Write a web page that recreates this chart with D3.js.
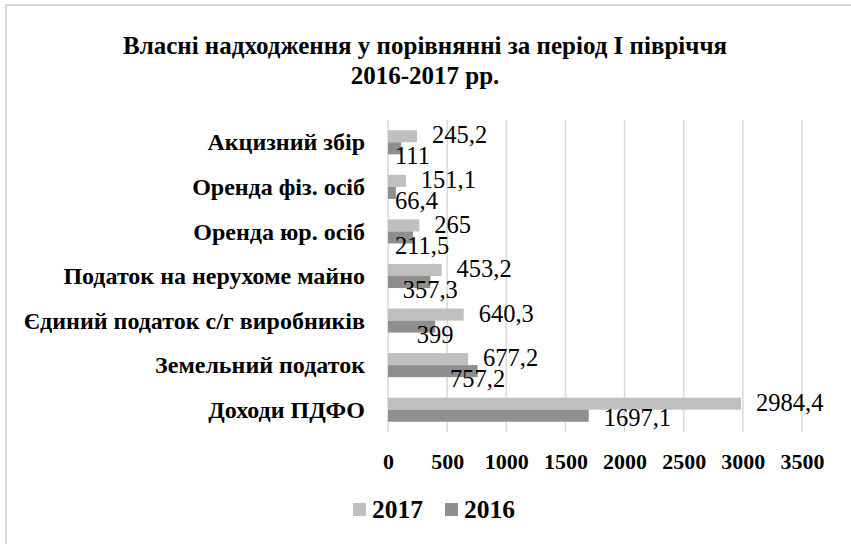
<!DOCTYPE html>
<html>
<head>
<meta charset="utf-8">
<script src="https://cdn.jsdelivr.net/npm/d3@7"></script>
<style>
  body { margin: 0; background: #fff; }
</style>
</head>
<body>
<div class="chart"></div>
<script>
// Data
var categories = [
  "Акцизний збір",
  "Оренда фіз. осіб",
  "Оренда юр. осіб",
  "Податок на нерухоме майно",
  "Єдиний податок с/г виробників",
  "Земельний податок",
  "Доходи ПДФО"
];
var seriesNames = ["2017", "2016"];
var values2017 = [245.2, 151.1, 265, 453.2, 640.3, 677.2, 2984.4];
var values2016 = [111, 66.4, 211.5, 357.3, 399, 757.2, 1697.1];
var xTicks = [0, 500, 1000, 1500, 2000, 2500, 3000, 3500];
var colors = { "2017": "#bfbfbf", "2016": "#8f8f8f" };

var svgWidth = 851;
var svgHeight = 544;
var plot = { left: 388, right: 802, top: 120, bottom: 432 };
var serif = "'Liberation Serif', 'Times New Roman', serif";

var svg = d3.select(".chart")
  .append("svg")
  .attr("width", svgWidth)
  .attr("height", svgHeight)
  .style("font-family", serif);

// outer frame (only top and left edges visible)
svg.append("path")
  .attr("d", "M6," + svgHeight + "V5H" + svgWidth)
  .attr("fill", "none")
  .attr("stroke", "#d9d9d9")
  .attr("stroke-width", 2);

// title
var title = svg.append("text")
  .style("font-family", serif)
  .attr("text-anchor", "middle")
  .attr("font-weight", "bold")
  .attr("font-size", 25)
  .attr("fill", "#000");
title.append("tspan").attr("x", 425).attr("y", 54).text("Власні надходження у порівнянні за період І півріччя");
title.append("tspan").attr("x", 425).attr("y", 84).text("2016-2017 рр.");

var rows = categories.map(function(c, i) {
  return { cat: c, vals: [
    { key: "2017", value: values2017[i] },
    { key: "2016", value: values2016[i] }
  ] };
});

var xScale = d3.scaleLinear().domain([0, 3500]).range([plot.left, plot.right]);
var yScale = d3.scaleBand().domain(categories).range([plot.top, plot.bottom])
  .paddingInner(0.46).paddingOuter(0.23);
var ySub = d3.scaleBand().domain(seriesNames).range([0, yScale.bandwidth()]);

// gridlines
svg.append("g")
  .selectAll("line")
  .data(xTicks)
  .enter()
  .append("line")
  .attr("x1", function(d) { return xScale(d); })
  .attr("x2", function(d) { return xScale(d); })
  .attr("y1", plot.top)
  .attr("y2", plot.bottom)
  .attr("stroke", "#d9d9d9")
  .attr("stroke-width", 1.5);

// x axis labels
var bottomAxis = d3.axisBottom(xScale).tickValues(xTicks).tickFormat(d3.format("d"))
  .tickSize(0).tickPadding(0);
var xAxis = svg.append("g")
  .attr("transform", "translate(0," + (plot.bottom + 21) + ")")
  .call(bottomAxis);
xAxis.select(".domain").remove();
xAxis.selectAll("text")
  .style("font-family", serif)
  .attr("font-weight", "bold")
  .attr("font-size", 22)
  .attr("fill", "#000")
  .attr("dy", "0.71em");

// category labels
var leftAxis = d3.axisLeft(yScale).tickSize(0).tickPadding(0);
var yAxis = svg.append("g")
  .attr("transform", "translate(365,0)")
  .call(leftAxis);
yAxis.select(".domain").remove();
yAxis.selectAll("text")
  .style("font-family", serif)
  .attr("font-weight", "bold")
  .attr("font-size", 24)
  .attr("fill", "#000")
  .attr("dy", "0.34em");

// bars
var groups = svg.append("g")
  .selectAll("g")
  .data(rows)
  .enter()
  .append("g")
  .attr("transform", function(d) { return "translate(0," + yScale(d.cat) + ")"; });

groups.selectAll("rect")
  .data(function(d) { return d.vals; })
  .enter()
  .append("rect")
  .attr("x", xScale(0))
  .attr("y", function(d) { return ySub(d.key); })
  .attr("width", function(d) { return xScale(d.value) - xScale(0); })
  .attr("height", ySub.bandwidth())
  .attr("fill", function(d) { return colors[d.key]; });

// data labels
var fmt = function(v) { return String(v).replace(".", ","); };
groups.each(function(d) {
  var g = d3.select(this);
  var a = d.vals[0], b = d.vals[1];
  var endA = xScale(a.value), endB = xScale(b.value);
  var cA = ySub("2017") + ySub.bandwidth() / 2;
  var cB = ySub("2016") + ySub.bandwidth() / 2;

  var tA = g.append("text")
    .style("font-family", serif)
    .attr("font-size", 24.5)
    .attr("dy", "0.33em")
    .attr("x", endA + 15)
    .attr("y", cA - 1)
    .text(fmt(a.value));
  var wA = tA.node().getComputedTextLength();

  var tB = g.append("text")
    .style("font-family", serif)
    .attr("font-size", 24.5)
    .attr("dy", "0.33em")
    .text(fmt(b.value));
  var wB = tB.node().getComputedTextLength();

  var xB = endB + 15;
  var yB = cB + 2;
  // move the 2016 label under its bar end when it would run into the 2017 label
  if (xB < endA + 15 + wA && xB + wB > endA + 15) {
    xB = Math.max(endB - wB / 2, xScale(0) + 7);
    yB = cB + 8;
  }
  tB.attr("x", xB).attr("y", yB);
});

// legend
var legend = svg.append("g")
  .selectAll("g")
  .data(seriesNames)
  .enter()
  .append("g")
  .attr("transform", function(d, i) { return "translate(" + (353 + i * 92) + ",503)"; });
legend.append("rect")
  .attr("width", 13)
  .attr("height", 13)
  .attr("fill", function(d) { return colors[d]; });
legend.append("text")
  .style("font-family", serif)
  .attr("x", 19)
  .attr("y", 14.5)
  .attr("font-weight", "bold")
  .attr("font-size", 25.5)
  .text(function(d) { return d; });
</script>
</body>
</html>
